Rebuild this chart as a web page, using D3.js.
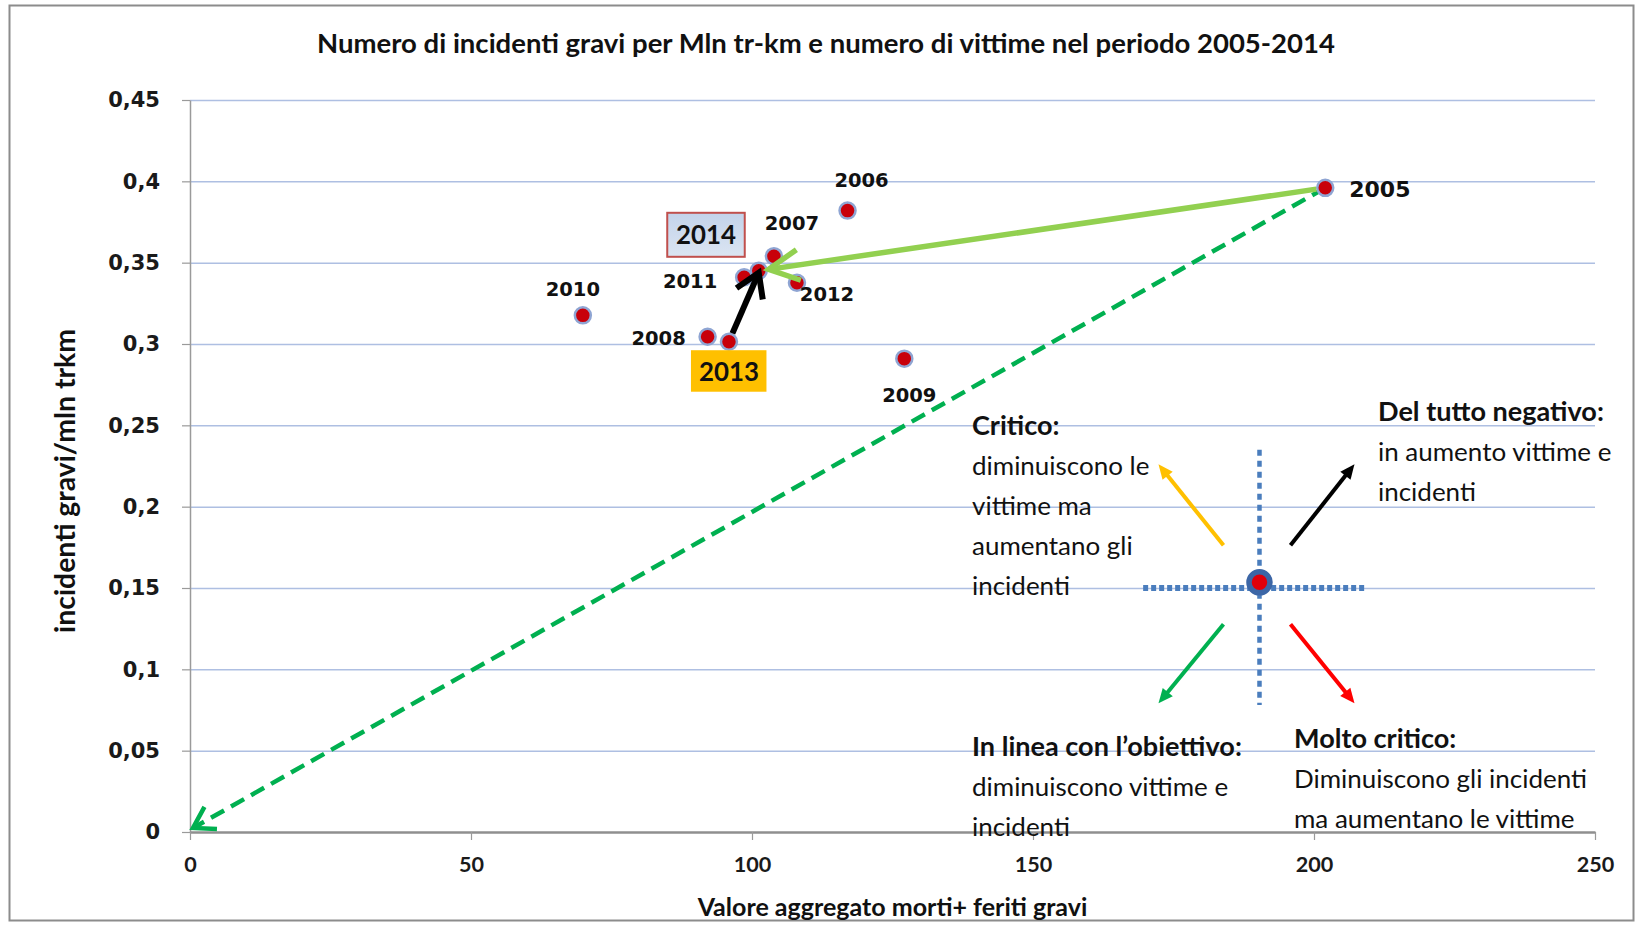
<!DOCTYPE html>
<html>
<head>
<meta charset="utf-8">
<script src="https://cdn.jsdelivr.net/npm/d3@7"></script>
<style>
 body { margin: 0; background: #fff; }
</style>
</head>
<body>
<svg id="chart" width="1639" height="925"></svg>
<script>

// Values.

var years = [2005, 2006, 2007, 2008, 2009, 2010, 2011, 2012, 2013, 2014];
var victims = [202.0, 117.0, 103.9, 92.1, 127.1, 69.9, 98.6, 108.0, 95.9, 101.2];
var incidents = [0.396, 0.382, 0.354, 0.3045, 0.291, 0.3176, 0.341, 0.3377, 0.3014, 0.345];

var xTicks = [0, 50, 100, 150, 200, 250];
var yTicks = [0, 0.05, 0.1, 0.15, 0.2, 0.25, 0.3, 0.35, 0.4, 0.45];

// Legend "compass" in the lower right, in data units.
var quadCenter = [190.3, 0.1535];
var quadCrossX = [169.6, 209.4];
var quadCrossY = [0.078, 0.235];

var titleText = 'Numero di incidenti gravi per Mln tr-km e numero di vittime nel periodo 2005-2014';
var xTitle = 'Valore aggregato morti+ feriti gravi';
var yTitle = 'incidenti gravi/mln trkm';

var noteCritico = ['Critico:', 'diminuiscono le', 'vittime ma', 'aumentano gli', 'incidenti'];
var noteNegativo = ['Del tutto negativo:', 'in aumento vittime e', 'incidenti'];
var noteObiettivo = ['In linea con l\u2019obiettivo:', 'diminuiscono vittime e', 'incidenti'];
var noteMolto = ['Molto critico:', 'Diminuiscono gli incidenti', 'ma aumentano le vittime'];

var data = years.map(function(yr, i) {
 return {year: yr, v: victims[i], inc: incidents[i]};
});
var byYear = {};
data.forEach(function(d) { byYear[d.year] = d; });

// Basic setup.

var svg = d3.select('#chart');
var calibri = "Lato, 'Open Sans', sans-serif";
var verdana = "'DejaVu Sans', Verdana, sans-serif";

var x = d3.scaleLinear().domain([0, 250]).range([190, 1595]);
var y = d3.scaleLinear().domain([0, 0.45]).range([832, 100]);

var fmt = function(d) { return String(d).replace('.', ','); };

// Pick a font size so that a string gets the width it has in the picture.
var fit = function(family, weight, str, target) {
 var t = svg.append('text')
 .attr('font-family', family)
 .attr('font-weight', weight)
 .attr('font-size', 100)
 .text(str);
 var w = t.node().getComputedTextLength();
 t.remove();
 return 100 * target / w;
};

var sTitle = fit(calibri, 700, titleText, 1018);
var sXTitle = fit(calibri, 700, xTitle, 390);
var sYTitle = fit(calibri, 700, yTitle, 304);
var sXTick = fit(calibri, 700, '100', 37.6);
var sBox = fit(calibri, 700, '2014', 60);
var sNoteB = fit(calibri, 700, noteObiettivo[0], 270);
var sNote = fit(calibri, 400, noteMolto[1], 293);

// Outer frame.

svg.append('rect')
 .attr('x', 9.5).attr('y', 5.5)
 .attr('width', 1624).attr('height', 915)
 .attr('fill', '#fff')
 .attr('stroke', '#8c8c8c')
 .attr('stroke-width', 2);

// Title.

svg.append('text')
 .attr('x', 826).attr('y', 53)
 .attr('text-anchor', 'middle')
 .attr('font-family', calibri).attr('font-weight', 700)
 .attr('font-size', sTitle)
 .attr('fill', '#111')
 .text(titleText);

// Grid.

var grid = svg.append('g')
 .attr('transform', 'translate(' + x(0) + ',0)')
 .call(d3.axisLeft(y).tickValues(yTicks.slice(1)).tickSize(-(x(250) - x(0))).tickFormat(''));
grid.select('.domain').remove();
grid.selectAll('line').attr('stroke', '#aebfe2').attr('stroke-width', 1.5);

// Axes.

var yAxis = svg.append('g')
 .attr('transform', 'translate(' + x(0) + ',0)')
 .call(d3.axisLeft(y).tickValues(yTicks).tickFormat(fmt).tickSize(8).tickSizeOuter(0).tickPadding(22));
yAxis.select('.domain').attr('stroke', '#9a9a9a').attr('stroke-width', 1.5);
yAxis.selectAll('line').attr('stroke', '#9a9a9a').attr('stroke-width', 1.2);
yAxis.selectAll('text')
 .attr('font-family', verdana).attr('font-weight', 700)
 .attr('font-size', 21).attr('fill', '#1a1a1a');

var xAxis = svg.append('g')
 .attr('transform', 'translate(0,' + y(0) + ')')
 .call(d3.axisBottom(x).tickValues(xTicks).tickSize(8).tickSizeOuter(0).tickPadding(17));
xAxis.select('.domain').attr('stroke', '#8f8f8f').attr('stroke-width', 2.5);
xAxis.selectAll('line').attr('stroke', '#9a9a9a').attr('stroke-width', 1.2);
xAxis.selectAll('text')
 .attr('font-family', calibri).attr('font-weight', 700)
 .attr('font-size', sXTick).attr('fill', '#1a1a1a');

svg.append('text')
 .attr('x', (x(0) + x(250)) / 2).attr('y', 916)
 .attr('text-anchor', 'middle')
 .attr('font-family', calibri).attr('font-weight', 700)
 .attr('font-size', sXTitle).attr('fill', '#111')
 .text(xTitle);

svg.append('text')
 .attr('transform', 'translate(75,481) rotate(-90)')
 .attr('text-anchor', 'middle')
 .attr('font-family', calibri).attr('font-weight', 700)
 .attr('font-size', sYTitle).attr('fill', '#111')
 .text(yTitle);

// Arrow helper: line plus open (V) or filled head.

var arrow = function(g, x1, y1, x2, y2, o) {
 var dx = x2 - x1, dy = y2 - y1;
 var len = Math.sqrt(dx * dx + dy * dy);
 var ux = dx / len, uy = dy / len;
 var a = o.angle * Math.PI / 180;
 var arm = function(s) {
  var bx = -ux, by = -uy;
  var rx = bx * Math.cos(s * a) - by * Math.sin(s * a);
  var ry = bx * Math.sin(s * a) + by * Math.cos(s * a);
  return [x2 + rx * o.head, y2 + ry * o.head];
 };
 var p1 = arm(1), p2 = arm(-1);
 var ex = o.filled ? x2 - ux * o.head * 0.8 : x2;
 var ey = o.filled ? y2 - uy * o.head * 0.8 : y2;
 g.append('line')
 .attr('x1', x1).attr('y1', y1).attr('x2', ex).attr('y2', ey)
 .attr('stroke', o.color).attr('stroke-width', o.width)
 .attr('stroke-dasharray', o.dash || null);
 if (o.filled) {
  g.append('path')
  .attr('d', 'M' + x2 + ',' + y2 + 'L' + p1 + 'L' + p2 + 'Z')
  .attr('fill', o.color);
 } else {
  g.append('path')
  .attr('d', 'M' + p1 + 'L' + x2 + ',' + y2 + 'L' + p2)
  .attr('fill', 'none')
  .attr('stroke', o.color).attr('stroke-width', o.width)
  .attr('stroke-linejoin', 'miter').attr('stroke-linecap', 'butt');
 }
};

var p05 = byYear[2005], p13 = byYear[2013], p14 = byYear[2014];

// dashed: 2005 towards the origin (under the points)
arrow(svg.append('g'), x(p05.v), y(p05.inc), x(0) + 3, y(0) - 4,
 {color: '#00b050', width: 4.5, head: 24, angle: 32, dash: '15,8'});

// Points.

svg.append('g')
 .selectAll('circle')
 .data(data)
 .enter().append('circle')
 .attr('cx', function(d) { return x(d.v); })
 .attr('cy', function(d) { return y(d.inc); })
 .attr('r', 8)
 .attr('fill', '#c8000a')
 .attr('stroke', '#8fa5d3')
 .attr('stroke-width', 2.5);

// Solid arrows sit over the points.

var arrows = svg.append('g');

// light green: 2005 to 2014
(function() {
 var x1 = x(p05.v), y1 = y(p05.inc), x2 = x(p14.v), y2 = y(p14.inc);
 var l = Math.sqrt((x2 - x1) * (x2 - x1) + (y2 - y1) * (y2 - y1));
 arrow(arrows, x1 + (x2 - x1) * 9 / l, y1 + (y2 - y1) * 9 / l,
  x2 - (x2 - x1) * 10 / l, y2 - (y2 - y1) * 10 / l,
  {color: '#92d050', width: 5.5, head: 34, angle: 27});
})();

// black: 2013 to 2014
(function() {
 var x1 = x(p13.v), y1 = y(p13.inc), x2 = x(p14.v), y2 = y(p14.inc);
 var l = Math.sqrt((x2 - x1) * (x2 - x1) + (y2 - y1) * (y2 - y1));
 arrow(arrows, x1 + (x2 - x1) * 9 / l, y1 + (y2 - y1) * 9 / l,
  x2, y2 + 2,
  {color: '#000', width: 6, head: 27, angle: 32});
})();

// Year labels (offsets from the point, in px).

var labelOffset = {
 2005: [24, 1], 2006: [14, -31], 2007: [18, -33], 2008: [-49, 1],
 2009: [5, 36], 2010: [-10, -26], 2011: [-54, 4], 2012: [30, 11]
};

svg.append('g')
 .selectAll('text')
 .data(data.filter(function(d) { return labelOffset[d.year]; }))
 .enter().append('text')
 .attr('x', function(d) { return x(d.v) + labelOffset[d.year][0]; })
 .attr('y', function(d) { return y(d.inc) + labelOffset[d.year][1]; })
 .attr('dy', '0.36em')
 .attr('text-anchor', function(d) { return d.year === 2005 ? 'start' : 'middle'; })
 .attr('font-family', verdana).attr('font-weight', 700)
 .attr('font-size', function(d) { return d.year === 2005 ? 22 : 19.5; })
 .attr('fill', '#111')
 .text(function(d) { return d.year; });

// Highlighted boxes for 2013 and 2014.

var defs = svg.append('defs');
var grad = defs.append('linearGradient').attr('id', 'blueBox')
 .attr('x1', 0).attr('y1', 0).attr('x2', 0).attr('y2', 1);
grad.append('stop').attr('offset', '0%').attr('stop-color', '#c3d3ea');
grad.append('stop').attr('offset', '100%').attr('stop-color', '#dbe5f2');

var bx13 = x(p13.v), by13 = y(p13.inc);
svg.append('rect')
 .attr('x', bx13 - 38).attr('y', by13 + 8.5)
 .attr('width', 75.5).attr('height', 41.5)
 .attr('fill', '#ffc000');
svg.append('text')
 .attr('x', bx13).attr('y', by13 + 29.5)
 .attr('dy', '0.36em').attr('text-anchor', 'middle')
 .attr('font-family', calibri).attr('font-weight', 700)
 .attr('font-size', sBox).attr('fill', '#111')
 .text('2013');

var bx14 = x(p14.v), by14 = y(p14.inc);
svg.append('rect')
 .attr('x', bx14 - 91.5).attr('y', by14 - 58)
 .attr('width', 77.5).attr('height', 44)
 .attr('fill', 'url(#blueBox)')
 .attr('stroke', '#c0504d').attr('stroke-width', 2);
svg.append('text')
 .attr('x', bx14 - 52.7).attr('y', by14 - 36)
 .attr('dy', '0.36em').attr('text-anchor', 'middle')
 .attr('font-family', calibri).attr('font-weight', 700)
 .attr('font-size', sBox).attr('fill', '#111')
 .text('2014');

// Legend compass.

var q = svg.append('g');
var cx = x(quadCenter[0]), cy = y(quadCenter[1]);

q.append('line')
 .attr('x1', x(quadCrossX[0])).attr('x2', x(quadCrossX[1]))
 .attr('y1', y(0.15)).attr('y2', y(0.15))
 .attr('stroke', '#4a7dbd').attr('stroke-width', 6)
 .attr('stroke-dasharray', '5,3');
q.append('line')
 .attr('x1', cx).attr('x2', cx)
 .attr('y1', y(quadCrossY[1])).attr('y2', y(quadCrossY[0]))
 .attr('stroke', '#4a7dbd').attr('stroke-width', 4.5)
 .attr('stroke-dasharray', '6,5');
q.append('circle')
 .attr('cx', cx).attr('cy', cy).attr('r', 10.5)
 .attr('fill', '#e0000a')
 .attr('stroke', '#3c66a6').attr('stroke-width', 5.5);

var qa = {width: 4, head: 16, angle: 24, filled: true};
arrow(q, cx - 36, cy - 37, cx - 101, cy - 118, Object.assign({color: '#ffc000'}, qa));
arrow(q, cx + 31, cy - 37, cx + 95, cy - 118, Object.assign({color: '#000'}, qa));
arrow(q, cx - 36, cy + 42, cx - 101, cy + 121, Object.assign({color: '#00b050'}, qa));
arrow(q, cx + 31, cy + 42, cx + 95, cy + 121, Object.assign({color: '#ff0000'}, qa));

// Legend texts.

var block = function(lines, x0, y0) {
 lines.forEach(function(s, i) {
  svg.append('text')
  .attr('x', x0).attr('y', y0 + i * 40)
  .attr('font-family', calibri)
  .attr('font-weight', i === 0 ? 700 : 400)
  .attr('font-size', i === 0 ? sNoteB : sNote)
  .attr('fill', '#111')
  .text(s);
 });
};

block(noteCritico, 972, 435);
block(noteNegativo, 1378, 421);
block(noteObiettivo, 972, 756);
block(noteMolto, 1294, 748);

</script>
</body>
</html>
